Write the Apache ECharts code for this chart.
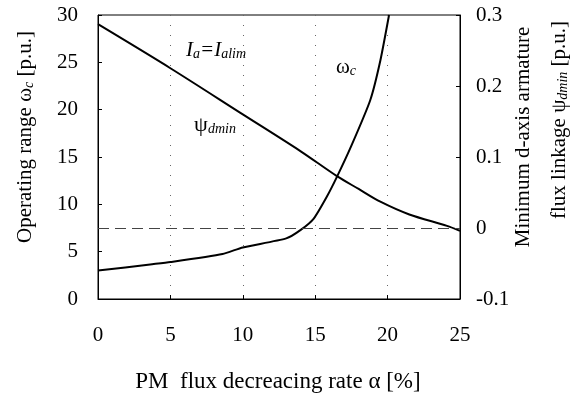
<!DOCTYPE html>
<html>
<head>
<meta charset="utf-8">
<script src="https://cdn.jsdelivr.net/npm/echarts@6/dist/echarts.min.js"></script>
<style>
  html, body { margin: 0; padding: 0; background: #fff; }
  #chart { width: 581px; height: 400px; }
</style>
</head>
<body>
<div id="chart"></div>
<script>
// values
const omegaAlpha = [0, 3.6, 5, 8.6, 10, 13, 14, 14.9, 15.8, 16.5, 17.5, 18.8, 19.5, 20.1]
const omegaValues = [3.0, 3.65, 3.9, 4.75, 5.45, 6.4, 7.3, 8.5, 10.8, 12.9, 16.2, 21.0, 25.2, 30]
const psiAlpha = [0, 5, 10, 14, 16.5, 18, 19.5, 21.5, 24.1, 25]
const psiValues = [0.287, 0.225, 0.160, 0.108, 0.073, 0.055, 0.037, 0.019, 0.003, -0.004]
const xTicks = [0, 5, 10, 15, 20, 25]

const font = 'Liberation Serif'
const chart = echarts.init(document.getElementById('chart'))

const pairs = (xs, ys) => xs.map((x, i) => [x, ys[i]])
const subStyle = { fontSize: 14, fontFamily: font, fontStyle: 'italic', verticalAlign: 'bottom', padding: [9, 0, 0, 0] }

chart.setOption({
  animation: false,
  textStyle: { fontFamily: font, color: '#000' },
  grid: {
    left: 98, right: 121, top: 15, bottom: 101,
    show: true, borderColor: '#000', borderWidth: 1
  },
  xAxis: {
    type: 'value',
    min: xTicks[0],
    max: xTicks[xTicks.length - 1],
    interval: 5,
    axisLine: { show: true, lineStyle: { color: '#000', width: 1 } },
    axisTick: { show: true, inside: true, length: 4, lineStyle: { color: '#000' } },
    axisLabel: { fontSize: 21, color: '#000', fontFamily: font, margin: 26 },
    splitLine: { show: true, lineStyle: { color: '#666', type: [1, 9], width: 1 } }
  },
  yAxis: [
    {
      type: 'value',
      min: 0, max: 30, interval: 5,
      axisLine: { show: true, lineStyle: { color: '#000' } },
      axisTick: { show: true, inside: true, length: 4, lineStyle: { color: '#000' } },
      axisLabel: { fontSize: 21, color: '#000', fontFamily: font, margin: 20 },
      splitLine: { show: false }
    },
    {
      type: 'value',
      position: 'right',
      min: -0.1, max: 0.3, interval: 0.1,
      axisLine: { show: true, lineStyle: { color: '#000' } },
      axisTick: { show: true, inside: true, length: 4, lineStyle: { color: '#000' } },
      axisLabel: {
        fontSize: 21, color: '#000', fontFamily: font, margin: 16,
        formatter: v => String(Math.round(v * 10) / 10)
      },
      splitLine: { show: false }
    }
  ],
  series: [
    {
      name: 'omega_c',
      type: 'line',
      yAxisIndex: 0,
      data: pairs(omegaAlpha, omegaValues),
      showSymbol: false,
      smooth: 0.2,
      clip: true,
      lineStyle: { color: '#000', width: 2 }
    },
    {
      name: 'psi_dmin',
      type: 'line',
      yAxisIndex: 1,
      data: pairs(psiAlpha, psiValues),
      showSymbol: false,
      smooth: 0.3,
      lineStyle: { color: '#000', width: 2 },
      markLine: {
        silent: true,
        symbol: 'none',
        label: { show: false },
        lineStyle: { color: '#444', type: [11, 6], width: 1 },
        data: [{ yAxis: 0 }]
      }
    }
  ],
  graphic: [
    {
      type: 'text', x: 25, y: 137, rotation: Math.PI / 2,
      style: {
        text: 'Operating range {w|ω}{sub|c} [p.u.]',
        font: '21px ' + font, fill: '#000', align: 'center', verticalAlign: 'middle',
        rich: { w: { fontSize: 21, fontFamily: font }, sub: subStyle }
      }
    },
    {
      type: 'text', x: 523, y: 137, rotation: Math.PI / 2,
      style: {
        text: 'Minimum d-axis armature',
        font: '21px ' + font, fill: '#000', align: 'center', verticalAlign: 'middle'
      }
    },
    {
      type: 'text', x: 559, y: 120, rotation: Math.PI / 2,
      style: {
        text: 'flux linkage ψ{sub|dmin} [p.u.]',
        font: '21px ' + font, fill: '#000', align: 'center', verticalAlign: 'middle',
        rich: { sub: subStyle }
      }
    },
    {
      type: 'text', x: 278, y: 382,
      style: {
        text: 'PM  flux decreacing rate α [%]',
        font: '23px ' + font, fill: '#000', align: 'center', verticalAlign: 'middle'
      }
    },
    {
      type: 'text', x: 216, y: 50,
      style: {
        text: '{i|I}{sub|a}{i|=I}{sub|alim}',
        fill: '#000', align: 'center', verticalAlign: 'middle',
        rich: { i: { fontSize: 21, fontFamily: font, fontStyle: 'italic' }, sub: subStyle }
      }
    },
    {
      type: 'text', x: 215, y: 125,
      style: {
        text: '{n|ψ}{sub|dmin}',
        fill: '#000', align: 'center', verticalAlign: 'middle',
        rich: { n: { fontSize: 22, fontFamily: font }, sub: subStyle }
      }
    },
    {
      type: 'text', x: 346, y: 67,
      style: {
        text: '{n|ω}{sub|c}',
        fill: '#000', align: 'center', verticalAlign: 'middle',
        rich: { n: { fontSize: 21, fontFamily: font }, sub: subStyle }
      }
    }
  ]
})
</script>
</body>
</html>
